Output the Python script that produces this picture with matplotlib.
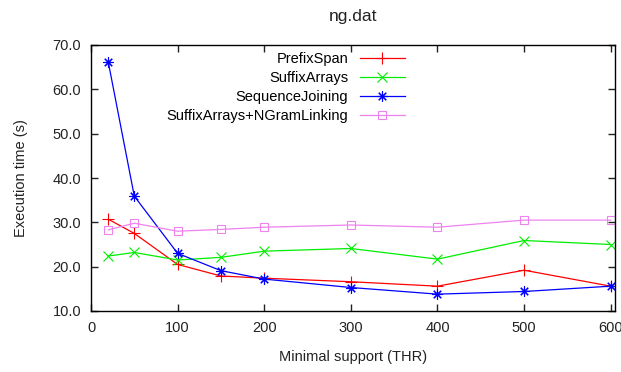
import matplotlib.pyplot as plt
from matplotlib.ticker import FormatStrFormatter

# minimal support thresholds
thr = [20, 50, 100, 150, 200, 300, 400, 500, 600]

prefixspan = [30.7, 27.5, 20.5, 17.9, 17.4, 16.6, 15.6, 19.2, 15.6]
suffixarrays = [22.4, 23.2, 21.5, 22.1, 23.5, 24.1, 21.7, 25.9, 25.0]
seqjoining = [66.1, 35.9, 23.0, 19.1, 17.2, 15.3, 13.8, 14.4, 15.6]
sa_ngram = [28.3, 29.8, 28.0, 28.4, 28.9, 29.4, 28.9, 30.5, 30.5]

plt.rcParams['font.family'] = ['Liberation Sans', 'DejaVu Sans']
plt.rcParams['font.size'] = 10.5

fig = plt.figure(figsize=(6.21, 3.72), dpi=100)
ax = fig.add_axes([91/621, 1 - 311/372, (615 - 91)/621, (311 - 45)/372])

ax.plot(thr, prefixspan, color='#ff0000', lw=0.9, marker='+', ms=8, mew=0.8, label='PrefixSpan')
ax.plot(thr, suffixarrays, color='#00ee00', lw=0.9, marker='x', ms=6.5, mew=0.8, label='SuffixArrays')
ax.plot(thr, seqjoining, color='#0000ff', lw=0.9, marker=(8, 2, 0), ms=7.5, mew=0.8, label='SequenceJoining')
ax.plot(thr, sa_ngram, color='#ee82ee', lw=0.9, marker='s', ms=6, mew=0.8, mfc='none',
        label='SuffixArrays+NGramLinking')

ax.set_xlim(0, 605)
ax.set_ylim(10, 70)
ax.set_xticks(range(0, 700, 100))
ax.set_yticks(range(10, 80, 10))
ax.yaxis.set_major_formatter(FormatStrFormatter('%.1f'))
ax.tick_params(direction='in', top=True, right=True, length=5, width=1, pad=7, colors='#222222')
for s in ax.spines.values():
    s.set_linewidth(1)

ax.set_xlabel('Minimal support (THR)', labelpad=11, color='#222222')
ax.set_ylabel('Execution time (s)', labelpad=18, color='#222222')
ax.set_title('ng.dat', pad=17, color='#222222')

ax.legend(loc='upper right', bbox_to_anchor=(405/621, 1 - 52/372), bbox_transform=fig.transFigure,
          frameon=False, markerfirst=False, handlelength=3.1, handletextpad=0.8,
          borderpad=0, borderaxespad=0, labelspacing=0.35)

plt.savefig('out.png', dpi=100)
